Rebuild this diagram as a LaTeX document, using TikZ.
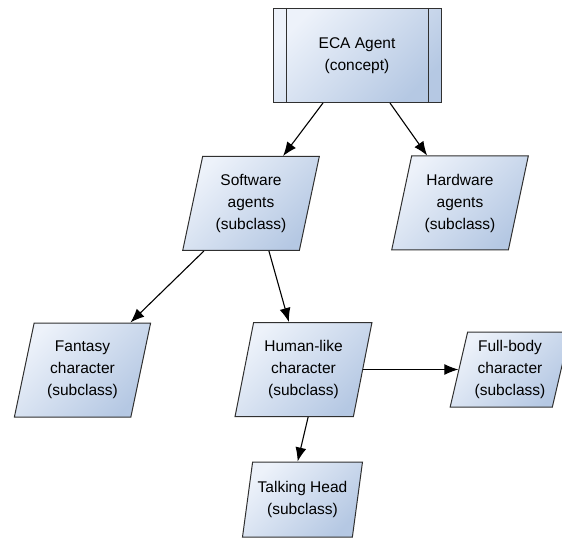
\documentclass[tikz,border=0pt]{standalone}
\usepackage{fontspec}
\setmainfont{Liberation Sans}
\usepackage{tikz}
\usetikzlibrary{arrows.meta, positioning, calc, shapes.geometric}

\definecolor{boxlight}{HTML}{EDF2FA}
\definecolor{boxdark}{HTML}{B5C8E3}
\definecolor{boxline}{HTML}{303030}

\begin{document}
\begin{tikzpicture}[
  x=1pt, y=-1pt,
  font=\fontsize{15.5}{22}\selectfont,
  filled/.style = {draw=boxline, line width=1pt, top color=boxlight, bottom color=boxdark, shading angle=45},
  concept/.style = {filled, rectangle, minimum width=168pt, minimum height=94pt, align=center, inner sep=0pt},
  subclass/.style = {filled, trapezium, trapezium left angle=76, trapezium right angle=104,
                     trapezium stretches=true, minimum width=137pt, minimum height=94pt, align=center, inner sep=0pt},
  smallclass/.style = {subclass, minimum width=120pt, minimum height=75pt},
  arrow/.style = {line width=1.1pt, -{Latex[length=14pt, width=11pt]}}
]

  \useasboundingbox (0,0) rectangle (562,545);

  % Concept
  \node[concept] (eca) at (357,55.5) {ECA Agent\\(concept)};
  \draw[boxline, line width=1pt] ($(eca.north west)+(14,0)$) -- ($(eca.south west)+(14,0)$);
  \draw[boxline, line width=1pt] ($(eca.north east)+(-13,0)$) -- ($(eca.south east)+(-13,0)$);

  % First level
  \node[subclass] (software) at (251,203.5) {Software\\agents\\(subclass)};
  \node[subclass] (hardware) at (460,203) {Hardware\\agents\\(subclass)};

  % Second level
  \node[subclass] (fantasy) at (82.5,370) {Fantasy\\character\\(subclass)};
  \node[subclass] (human) at (303.5,369.5) {Human-like\\character\\(subclass)};
  \node[smallclass] (fullbody) at (510,369.5) {Full-body\\character\\(subclass)};

  % Third level
  \node[smallclass] (talking) at (302.5,499.5) {Talking Head\\(subclass)};

  % eca -> software / hardware
  \draw[arrow] ($(eca.south)+(-34,0)$) -- ($(software.top side)+(22,0)$);
  \draw[arrow] ($(eca.south)+(33,0)$) -- ($(hardware.top side)+(-43,0)$);

  % software -> fantasy / human
  \draw[arrow] ($(software.bottom side)+(-37,0)$) -- ($(fantasy.top side)+(38,0)$);
  \draw[arrow] ($(software.bottom side)+(28,0)$) -- ($(human.top side)+(-24,0)$);

  % human -> fullbody / talking
  \draw[arrow] (human.right side) -- (fullbody.left side);
  \draw[arrow] ($(human.bottom side)+(14,0)$) -- ($(talking.top side)+(-10,0)$);

\end{tikzpicture}
\end{document}
